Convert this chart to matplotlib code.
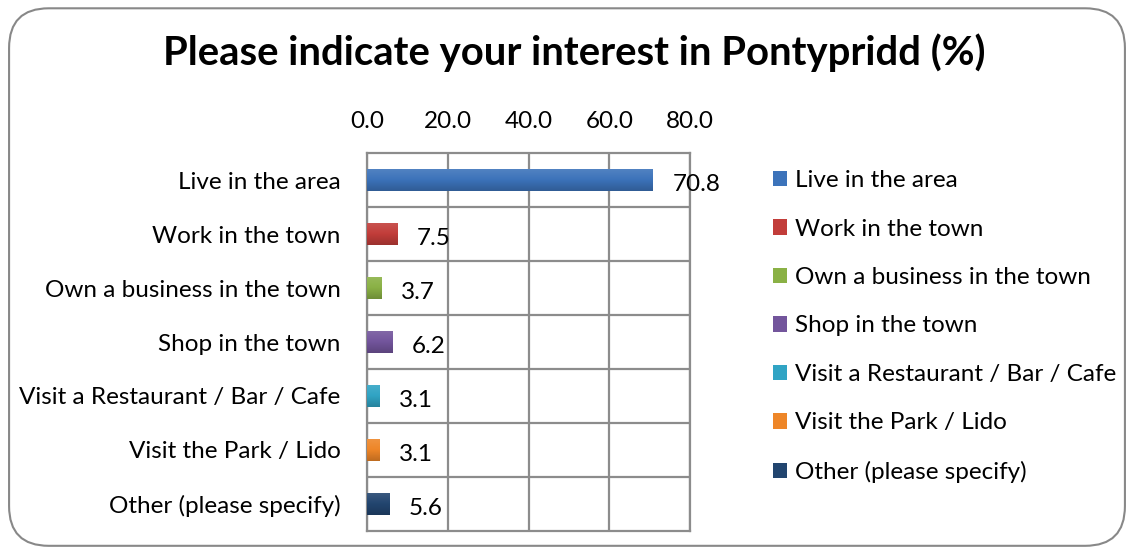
import numpy as np
import matplotlib.pyplot as plt
from matplotlib.colors import LinearSegmentedColormap, to_rgb
from matplotlib.patches import FancyBboxPatch, Patch

plt.rcParams['font.family'] = ['Lato', 'DejaVu Sans']

# Survey data
categories = ['Live in the area', 'Work in the town', 'Own a business in the town',
              'Shop in the town', 'Visit a Restaurant / Bar / Cafe',
              'Visit the Park / Lido', 'Other (please specify)']
values = [70.8, 7.5, 3.7, 6.2, 3.1, 3.1, 5.6]
colors = ['#3C73BA', '#C23D3A', '#8AB145', '#73559C', '#30A4C4', '#EE8628', '#22456F']
ticks = [0, 20, 40, 60, 80]


def shade(c, f):
    r, g, b = to_rgb(c)
    if f > 1:
        return tuple(x + (1 - x) * (f - 1) for x in (r, g, b))
    return tuple(x * f for x in (r, g, b))


fig = plt.figure(figsize=(11.34, 5.53), dpi=100)

# rounded chart border
border = FancyBboxPatch((0.008, 0.013), 0.984, 0.972, boxstyle='round,pad=0,rounding_size=0.035',
                        transform=fig.transFigure, facecolor='white', edgecolor='#888888',
                        linewidth=1.5, mutation_aspect=1134 / 553, zorder=-5)
fig.patches.append(border)

ax = fig.add_axes([0.3236, 0.0398, 0.6085 - 0.3236, 0.7233 - 0.0398])
ax.set_facecolor('none')
ypos = list(range(len(categories)))
bars = ax.barh(ypos, values, height=0.42, color=colors, zorder=3)

# excel-ish vertical gradient on each bar
grad = np.linspace(0, 1, 64).reshape(-1, 1)
for bar, c in zip(bars, colors):
    cmap = LinearSegmentedColormap.from_list('g', [shade(c, 1.12), c, shade(c, 0.8)])
    x0, y0 = bar.get_x(), bar.get_y()
    im = ax.imshow(grad, cmap=cmap, aspect='auto', zorder=3.5,
                   extent=(x0, x0 + bar.get_width(), y0 + bar.get_height(), y0))
    im.set_clip_path(bar)

for y, v in zip(ypos, values):
    ax.annotate(f'{v:.1f}', (v, y), xytext=(14, -3), textcoords='offset points',
                va='center', ha='left', fontsize=17.5, zorder=4)

ax.set_xlim(0, 80)
ax.set_ylim(len(categories) - 0.5, -0.5)
ax.set_xticks(ticks)
ax.set_xticklabels([f'{t:.1f}' for t in ticks])
ax.set_yticks(ypos)
ax.set_yticklabels(categories)
ax.xaxis.tick_top()
ax.tick_params(axis='x', length=0, pad=15, labelsize=17.5)
ax.tick_params(axis='y', length=0, pad=19, labelsize=17.5)

# grid lines in both directions, like the Excel original
for t in ticks:
    ax.axvline(t, color='#8c8c8c', linewidth=1.6, zorder=1)
for b in [y + 0.5 for y in ypos[:-1]]:
    ax.axhline(b, color='#8c8c8c', linewidth=1.6, zorder=1)
for s in ax.spines.values():
    s.set_color('#8c8c8c')
    s.set_linewidth(1.6)

fig.text(0.506, 0.905, 'Please indicate your interest in Pontypridd (%)', ha='center', va='center',
         fontsize=28.8, fontweight='bold')

handles = [Patch(facecolor=c, label=l) for c, l in zip(colors, categories)]
fig.legend(handles=handles, loc='upper left', bbox_to_anchor=(0.673, 0.71), frameon=False,
           fontsize=17.5, handlelength=0.6, handleheight=0.6, handletextpad=0.3,
           labelspacing=1.13, borderaxespad=0)

fig.savefig('out.png', dpi=100)
